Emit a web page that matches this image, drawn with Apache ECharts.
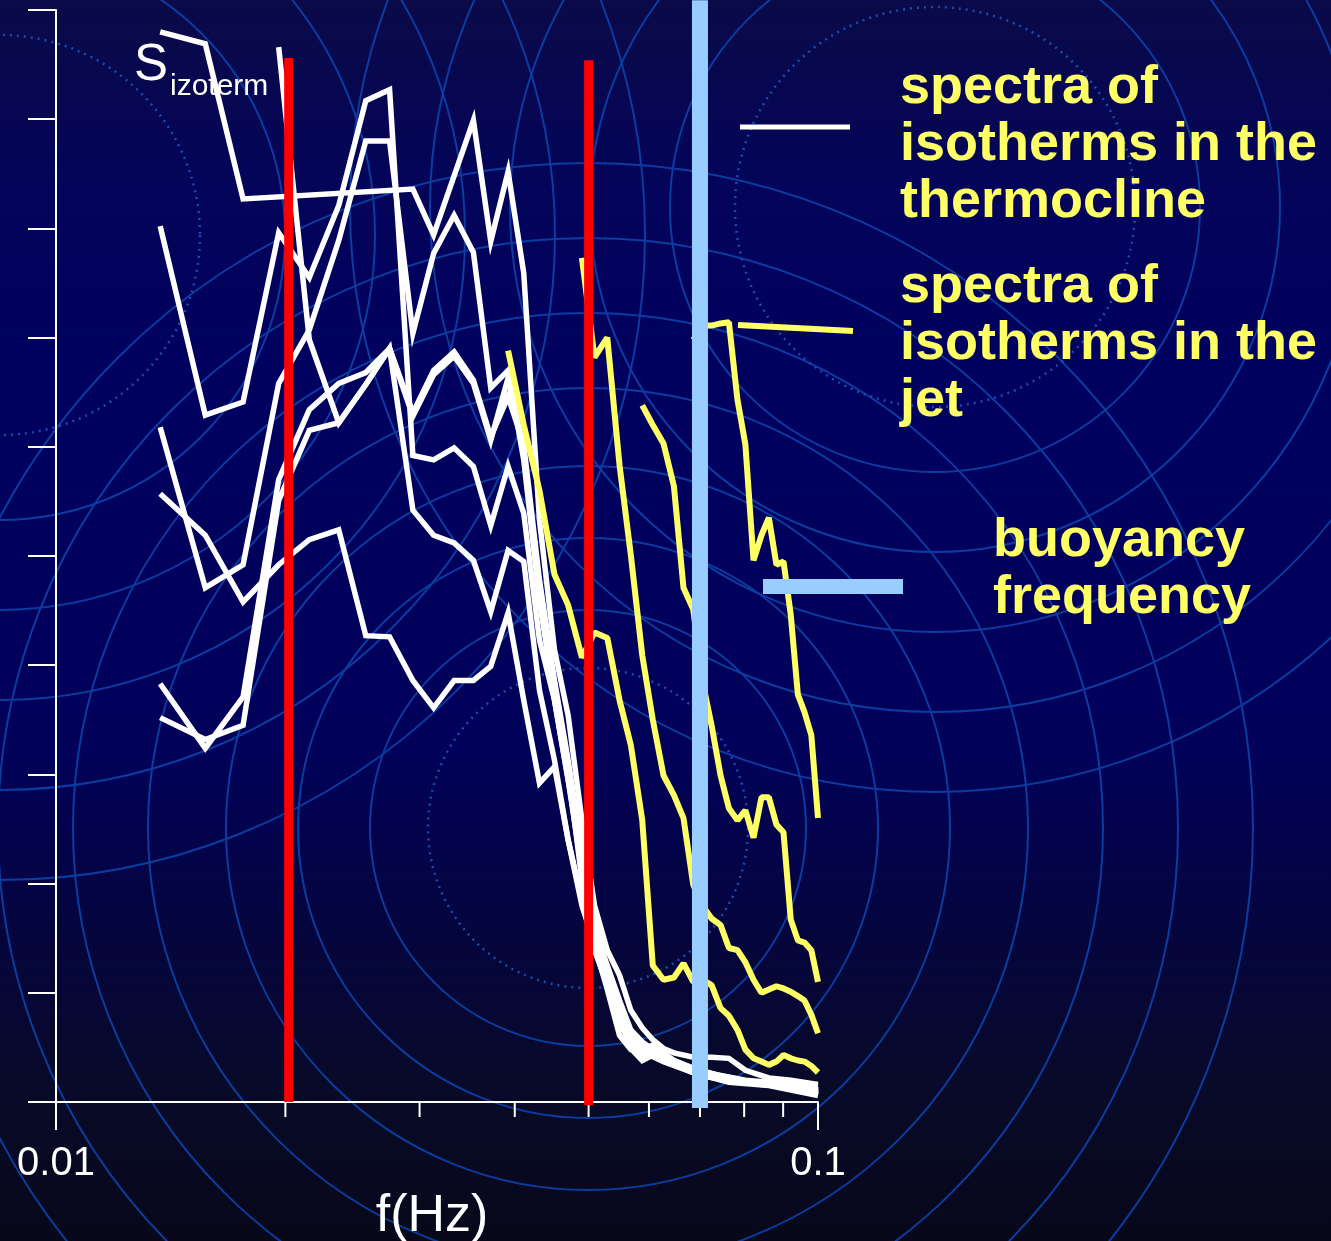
<!DOCTYPE html>
<html>
<head>
<meta charset="utf-8">
<script src="https://cdn.jsdelivr.net/npm/echarts@6/dist/echarts.min.js"></script>
<style>
html,body{margin:0;padding:0;background:#000;}
#chart{width:1331px;height:1241px;}
</style>
</head>
<body>
<div id="chart"></div>
<script>
// ---------- DATA (frequency in Hz, spectral level in relative units) ----------
const xTickLabels = ['0.01', '0.1'];
const minorTickFreqs = [0.02, 0.03, 0.04, 0.05, 0.06, 0.07, 0.08, 0.09];

// spectra of isotherms in the thermocline (white)
const thermoA = [[0.0137,9.80],[0.0157,9.69],[0.0176,8.27],[0.0294,8.36],[0.0313,7.94],[0.0353,8.99],[0.0372,7.88],[0.0392,8.52],[0.0411,7.59],[0.0431,5.33],[0.0451,4.14],[0.0470,3.54],[0.0490,2.58],[0.0509,1.80],[0.0529,1.39],[0.0549,1.16],[0.0568,0.84],[0.0588,0.68],[0.0607,0.57],[0.0627,0.49],[0.0647,0.45],[0.0686,0.41],[0.0725,0.41],[0.0764,0.40],[0.0803,0.29],[0.0862,0.22],[0.0921,0.20],[0.1000,0.16]];
const thermoB = [[0.0196,9.66],[0.0215,6.98],[0.0235,6.22],[0.0255,6.57],[0.0274,6.90],[0.0294,6.28],[0.0313,6.66],[0.0333,6.83],[0.0353,6.58],[0.0372,6.06],[0.0392,6.63],[0.0411,5.97],[0.0431,4.60],[0.0451,3.68],[0.0470,2.95],[0.0490,2.12],[0.0509,1.62],[0.0529,1.16],[0.0549,0.80],[0.0568,0.52],[0.0588,0.43],[0.0607,0.48],[0.0647,0.37],[0.0705,0.24],[0.0784,0.18],[0.0882,0.16],[0.1000,0.11]];
const thermoC = [[0.0137,8.02],[0.0157,6.29],[0.0176,6.41],[0.0196,7.96],[0.0215,7.55],[0.0235,8.21],[0.0255,9.17],[0.0274,9.27],[0.0294,5.92],[0.0313,5.88],[0.0333,5.99],[0.0353,5.82],[0.0372,5.28],[0.0392,5.82],[0.0411,5.39],[0.0431,4.23],[0.0451,3.68],[0.0470,2.95],[0.0490,2.22],[0.0509,1.58],[0.0529,1.25],[0.0549,0.93],[0.0568,0.66],[0.0588,0.55],[0.0607,0.48],[0.0647,0.38],[0.0686,0.31],[0.0745,0.24],[0.0823,0.18],[0.0901,0.16],[0.1000,0.11]];
const thermoD = [[0.0137,6.18],[0.0157,4.71],[0.0176,4.92],[0.0196,6.58],[0.0215,7.07],[0.0235,7.89],[0.0255,8.80],[0.0274,8.80],[0.0294,7.04],[0.0313,7.77],[0.0333,8.12],[0.0353,7.78],[0.0372,6.54],[0.0392,6.70],[0.0411,5.88],[0.0431,4.60],[0.0451,3.77],[0.0470,3.04],[0.0490,2.03],[0.0509,1.48],[0.0529,1.12],[0.0549,0.84],[0.0568,0.60],[0.0588,0.49],[0.0627,0.40],[0.0666,0.33],[0.0725,0.26],[0.0803,0.20],[0.0901,0.17],[0.1000,0.14]];
const thermoE = [[0.0137,5.57],[0.0157,5.19],[0.0176,4.58],[0.0196,4.92],[0.0215,5.15],[0.0235,5.24],[0.0255,4.27],[0.0274,4.26],[0.0294,3.86],[0.0313,3.61],[0.0333,3.86],[0.0353,3.86],[0.0372,3.99],[0.0392,4.48],[0.0411,3.68],[0.0431,2.92],[0.0451,3.07],[0.0470,2.40],[0.0490,1.80],[0.0509,1.44],[0.0529,1.03],[0.0549,0.61],[0.0568,0.48],[0.0588,0.48],[0.0607,0.52],[0.0647,0.38],[0.0705,0.27],[0.0803,0.18],[0.0921,0.15],[0.1000,0.07]];
const thermoF = [[0.0137,3.83],[0.0157,3.24],[0.0176,3.71],[0.0196,5.70],[0.0215,6.34],[0.0235,6.58],[0.0255,6.68],[0.0274,6.90],[0.0294,6.31],[0.0313,6.70],[0.0333,6.87],[0.0353,6.61],[0.0372,6.09],[0.0392,6.46],[0.0411,6.02],[0.0431,4.78],[0.0451,3.86],[0.0470,3.13],[0.0490,2.31],[0.0509,1.71],[0.0529,1.21],[0.0549,0.89],[0.0568,0.57],[0.0588,0.46],[0.0627,0.37],[0.0686,0.27],[0.0764,0.20],[0.0843,0.16],[0.0941,0.15],[0.1000,0.09]];
const thermoG = [[0.0137,3.52],[0.0157,3.32],[0.0176,3.45],[0.0196,5.51],[0.0215,6.15],[0.0235,6.22],[0.0255,6.57],[0.0274,6.90],[0.0294,5.42],[0.0313,5.19],[0.0333,5.12],[0.0353,4.96],[0.0372,4.49],[0.0392,5.05],[0.0411,4.95],[0.0431,3.77],[0.0451,3.13],[0.0470,2.40],[0.0490,1.85],[0.0509,1.39],[0.0529,1.07],[0.0549,0.75],[0.0568,0.49],[0.0588,0.38],[0.0607,0.43],[0.0647,0.34],[0.0686,0.27],[0.0764,0.18],[0.0862,0.15],[0.1000,0.06]];

// spectra of isotherms in the jet (yellow)
const jet1 = [[0.0392,6.88],[0.0411,6.20],[0.0431,5.60],[0.0451,4.83],[0.0470,4.55],[0.0490,4.07],[0.0509,4.30],[0.0529,4.25],[0.0549,3.68],[0.0568,3.27],[0.0588,2.58],[0.0607,1.25],[0.0627,1.12],[0.0647,1.14],[0.0666,1.27],[0.0686,1.10],[0.0705,1.12],[0.0725,1.07],[0.0745,0.86],[0.0764,0.79],[0.0784,0.66],[0.0803,0.48],[0.0823,0.40],[0.0843,0.37],[0.0862,0.34],[0.0882,0.37],[0.0901,0.43],[0.0921,0.40],[0.0941,0.38],[0.0960,0.37],[0.0980,0.33],[0.1000,0.27]];
const jet2 = [[0.0490,7.73],[0.0509,6.82],[0.0529,7.00],[0.0549,5.83],[0.0568,5.01],[0.0588,4.09],[0.0607,3.50],[0.0627,2.99],[0.0647,2.81],[0.0666,2.60],[0.0686,1.99],[0.0705,1.80],[0.0725,1.68],[0.0745,1.62],[0.0764,1.41],[0.0784,1.39],[0.0803,1.28],[0.0823,1.12],[0.0843,1.00],[0.0862,1.03],[0.0882,1.06],[0.0901,1.04],[0.0921,1.01],[0.0941,0.97],[0.0960,0.93],[0.0980,0.80],[0.1000,0.63]];
const jet3 = [[0.0588,6.38],[0.0607,6.20],[0.0627,6.03],[0.0647,5.64],[0.0666,4.71],[0.0686,4.51],[0.0705,3.86],[0.0725,3.45],[0.0745,2.99],[0.0764,2.69],[0.0784,2.58],[0.0803,2.67],[0.0823,2.42],[0.0843,2.79],[0.0862,2.79],[0.0882,2.54],[0.0901,2.47],[0.0921,1.67],[0.0941,1.48],[0.0960,1.46],[0.0980,1.39],[0.1000,1.10]];
const jet4 = [[0.0686,6.98],[0.0705,7.11],[0.0725,7.11],[0.0745,7.13],[0.0764,7.14],[0.0784,6.43],[0.0803,6.02],[0.0823,4.96],[0.0843,5.19],[0.0862,5.35],[0.0882,4.92],[0.0901,4.95],[0.0921,4.46],[0.0941,3.73],[0.0960,3.57],[0.0980,3.36],[0.1000,2.60]];

// reference frequencies
const redLowFreq = [[0.0202,0],[0.0202,9.56]];
const redHighFreq = [[0.05,-0.03],[0.05,9.54]];
const buoyancyFreq = [[0.07,-0.055],[0.07,10.09]];

const whiteSeries = [thermoA, thermoB, thermoC, thermoD, thermoE, thermoF, thermoG];
const yellowSeries = [jet1, jet2, jet3, jet4];

// ---------- DECORATION ----------
const YELLOW = '#ffff66';
const RING = '#0b3c9f';
const rippleSets = [
  {cx: 588, cy: 828, dotted: 160, rings: [218, 290, 362, 440, 515, 590, 665]},
  {cx: 935, cy: 207, dotted: 200, rings: [265, 345, 425, 505, 585]},
  {cx: 0, cy: 235, dotted: 200, rings: [285, 375, 465, 555, 645]}
];
const decor = [];
rippleSets.forEach(s => {
  decor.push({type:'circle', silent:true, z:-10, shape:{cx:s.cx, cy:s.cy, r:s.dotted},
    style:{fill:'none', stroke:'#1a4cb0', lineWidth:2.5, lineDash:[2,5]}});
  s.rings.forEach(r => decor.push({type:'circle', silent:true, z:-10, shape:{cx:s.cx, cy:s.cy, r:r},
    style:{fill:'none', stroke:RING, lineWidth:2}}));
});

const legendFont = 'bold 54px "Liberation Sans", Arial, sans-serif';
const graphics = decor.concat([
  {type:'line', z:20, shape:{x1:740, y1:127, x2:850, y2:127}, style:{stroke:'#ffffff', lineWidth:5}},
  {type:'line', z:20, shape:{x1:738, y1:325, x2:853, y2:331}, style:{stroke:YELLOW, lineWidth:6}},
  {type:'rect', z:20, shape:{x:763, y:579, width:140, height:15}, style:{fill:'#99ccff'}},
  {type:'text', z:20, x:900, y:60, style:{text:'spectra of\nisotherms in the\nthermocline', font:legendFont, fill:YELLOW, lineHeight:57, verticalAlign:'top', align:'left'}},
  {type:'text', z:20, x:900, y:259, style:{text:'spectra of\nisotherms in the\njet', font:legendFont, fill:YELLOW, lineHeight:57, verticalAlign:'top', align:'left'}},
  {type:'text', z:20, x:993, y:513, style:{text:'buoyancy\nfrequency', font:legendFont, fill:YELLOW, lineHeight:57, verticalAlign:'top', align:'left'}},
  {type:'text', z:20, x:134, y:66, style:{text:'S', font:'51px "Liberation Sans", Arial, sans-serif', fill:'#ffffff', verticalAlign:'middle', align:'left'}},
  {type:'text', z:20, x:170, y:87, style:{text:'izoterm', font:'30px "Liberation Sans", Arial, sans-serif', fill:'#ffffff', verticalAlign:'middle', align:'left'}}
]);

const series = [];
whiteSeries.forEach((d, i) => series.push({
  name:'thermocline ' + (i+1), type:'line', data:d, symbol:'none', showSymbol:false, z:3,
  lineStyle:{color:'#ffffff', width:5.5, join:'miter'}, animation:false, silent:true
}));
yellowSeries.forEach((d, i) => series.push({
  name:'jet ' + (i+1), type:'line', data:d, symbol:'none', showSymbol:false, z:4,
  lineStyle:{color:YELLOW, width:6}, animation:false, silent:true
}));
[redLowFreq, redHighFreq].forEach((d, i) => series.push({
  name:'red ' + (i+1), type:'line', data:d, symbol:'none', z:5, clip:false,
  lineStyle:{color:'#ff0000', width:9, cap:'butt'}, animation:false, silent:true
}));
series.push({
  name:'buoyancy frequency', type:'line', data:buoyancyFreq, symbol:'none', z:6, clip:false,
  lineStyle:{color:'#99ccff', width:16, cap:'butt'}, animation:false, silent:true
});
series.push({
  name:'minor ticks', type:'custom', z:2, clip:false, silent:true, animation:false,
  data: minorTickFreqs.map(f => [f, 0]),
  encode:{x:0, y:1},
  renderItem: function (params, api) {
    const p = api.coord([api.value(0), 0]);
    return {type:'line', shape:{x1:p[0], y1:p[1], x2:p[0], y2:p[1] + 15},
      style:{stroke:'#ffffff', lineWidth:2}};
  }
});

const chart = echarts.init(document.getElementById('chart'), null, {renderer:'canvas'});
chart.setOption({
  animation:false,
  backgroundColor:{type:'linear', x:0, y:0, x2:0, y2:1, colorStops:[
    {offset:0, color:'#0a0a48'}, {offset:0.15, color:'#04045a'}, {offset:0.3, color:'#00005f'},
    {offset:0.6, color:'#01015a'}, {offset:0.75, color:'#05053e'}, {offset:0.88, color:'#080a28'},
    {offset:1, color:'#08081a'}]},
  grid:{left:56, right:513, top:10, bottom:139, containLabel:false, outerBoundsMode:'none'},
  xAxis:{
    type:'log', logBase:10, min:0.01, max:0.1,
    axisLine:{show:true, onZero:false, lineStyle:{color:'#ffffff', width:2}},
    axisTick:{show:true, length:28, lineStyle:{color:'#ffffff', width:2}},
    minorTick:{show:false}, splitLine:{show:false}, minorSplitLine:{show:false},
    axisLabel:{color:'#ffffff', fontSize:40, fontFamily:'"Liberation Sans", Arial, sans-serif', margin:42,
      formatter: function (v) { return Math.abs(v - 0.01) < 1e-9 ? xTickLabels[0] : (Math.abs(v - 0.1) < 1e-9 ? xTickLabels[1] : ''); }},
    name:'f(Hz)', nameLocation:'middle', nameGap:89,
    nameTextStyle:{color:'#ffffff', fontSize:52, fontFamily:'"Liberation Sans", Arial, sans-serif', padding:[0,10,0,0]}
  },
  yAxis:{
    type:'value', min:0, max:10, interval:1,
    axisLine:{show:true, lineStyle:{color:'#ffffff', width:2}},
    axisTick:{show:true, length:28, lineStyle:{color:'#ffffff', width:2}},
    axisLabel:{show:false}, splitLine:{show:false}
  },
  graphic:{elements:graphics},
  series:series
});
</script>
</body>
</html>
